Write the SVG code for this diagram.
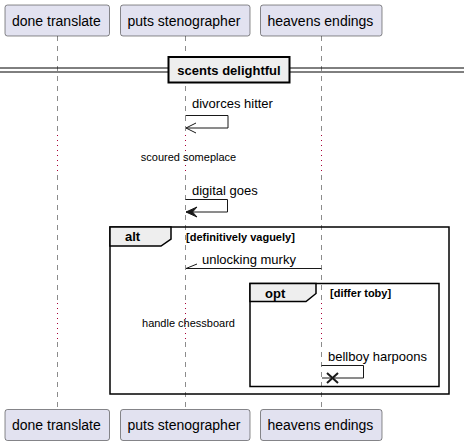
<svg xmlns="http://www.w3.org/2000/svg" width="464" height="446" viewBox="0 0 464 446">
<style>
.pbox{fill:#E2E2F0;stroke:#181818;stroke-width:0.5}
.pname{font-family:"Liberation Sans",Arial,sans-serif;font-size:14px;fill:#000}
.life{stroke:#181818;stroke-width:0.5;stroke-dasharray:5,5;fill:none}
.delay{stroke:#A80036;stroke-width:1;stroke-dasharray:1,4;fill:none}
.msg{stroke:#181818;stroke-width:1;fill:none}
.mtext{font-family:"Liberation Sans",Arial,sans-serif;font-size:13px;fill:#000}
.dtext{font-family:"Liberation Sans",Arial,sans-serif;font-size:11px;fill:#000}
.frame{stroke:#000;stroke-width:1.5;fill:none}
.tab{fill:#EEEEEE;stroke:#000;stroke-width:1.5}
.ftitle{font-family:"Liberation Sans",Arial,sans-serif;font-size:13px;font-weight:bold;fill:#000}
.guard{font-family:"Liberation Sans",Arial,sans-serif;font-size:11px;font-weight:bold;fill:#000}
</style>
<rect width="464" height="446" fill="#FFFFFF"/>
<g id="lifelines">
<line class="life" x1="57.5" y1="36" x2="57.5" y2="135"/>
<line class="delay" x1="57.5" y1="135" x2="57.5" y2="175"/>
<line class="life" x1="57.5" y1="175" x2="57.5" y2="303"/>
<line class="delay" x1="57.5" y1="303" x2="57.5" y2="342"/>
<line class="life" x1="57.5" y1="342" x2="57.5" y2="409"/>
<line class="life" x1="185.5" y1="36" x2="185.5" y2="135"/>
<line class="delay" x1="185.5" y1="135" x2="185.5" y2="175"/>
<line class="life" x1="185.5" y1="175" x2="185.5" y2="303"/>
<line class="delay" x1="185.5" y1="303" x2="185.5" y2="342"/>
<line class="life" x1="185.5" y1="342" x2="185.5" y2="409"/>
<line class="life" x1="321.5" y1="36" x2="321.5" y2="135"/>
<line class="delay" x1="321.5" y1="135" x2="321.5" y2="175"/>
<line class="life" x1="321.5" y1="175" x2="321.5" y2="303"/>
<line class="delay" x1="321.5" y1="303" x2="321.5" y2="342"/>
<line class="life" x1="321.5" y1="342" x2="321.5" y2="409"/>
</g>
<g id="divider">
<line x1="0" y1="68" x2="464" y2="68" stroke="#000" stroke-width="1"/>
<line x1="0" y1="72" x2="464" y2="72" stroke="#000" stroke-width="1"/>
<rect x="168.5" y="57" width="121" height="25.5" fill="#EEEEEE" stroke="#000" stroke-width="2"/>
<text x="229" y="75" text-anchor="middle" class="ftitle">scents delightful</text>
</g>
<g id="top-participants">
<g id="p1-top"><rect class="pbox" x="5" y="5" width="104.5" height="31" rx="2.5"/><text class="pname" x="12" y="25.5">done translate</text></g>
<g id="p2-top"><rect class="pbox" x="120.5" y="5" width="129.5" height="31" rx="2.5"/><text class="pname" x="127.5" y="25.5">puts stenographer</text></g>
<g id="p3-top"><rect class="pbox" x="260.5" y="5" width="121.5" height="31" rx="2.5"/><text class="pname" x="267.5" y="25.5">heavens endings</text></g>
</g>
<g id="bottom-participants">
<g id="p1-bot"><rect class="pbox" x="5" y="409.5" width="104.5" height="31" rx="2.5"/><text class="pname" x="12" y="430">done translate</text></g>
<g id="p2-bot"><rect class="pbox" x="120.5" y="409.5" width="129.5" height="31" rx="2.5"/><text class="pname" x="127.5" y="430">puts stenographer</text></g>
<g id="p3-bot"><rect class="pbox" x="260.5" y="409.5" width="121.5" height="31" rx="2.5"/><text class="pname" x="267.5" y="430">heavens endings</text></g>
</g>
<g id="fragments">
<g id="alt">
<rect class="frame" x="110" y="227" width="339" height="167"/>
<path class="tab" d="M110,227 L171,227 L171,239 L161,246 L110,246 Z"/>
<text class="ftitle" x="125" y="241">alt</text>
<text class="guard" x="186" y="240.5">[definitively vaguely]</text>
</g>
<g id="opt">
<rect class="frame" x="250" y="283.5" width="189" height="103"/>
<path class="tab" d="M250,283.5 L316,283.5 L316,293.5 L306,301.5 L250,301.5 Z"/>
<text class="ftitle" x="265" y="297.5">opt</text>
<text class="guard" x="330" y="297">[differ toby]</text>
</g>
</g>
<g id="connectors">
<g id="m1">
<text class="mtext" x="192" y="108">divorces hitter</text>
<polyline class="msg" points="185.5,115.5 228,115.5 228,128 186,128"/>
<polyline class="msg" points="196,123 186,128 196,133"/>
</g>
<g id="d1"><text class="dtext" x="188.5" y="161" text-anchor="middle">scoured someplace</text></g>
<g id="m2">
<text class="mtext" x="192" y="195">digital goes</text>
<polyline class="msg" points="185.5,199.5 227.5,199.5 227.5,212 186,212"/>
<polygon points="186,212 197,207 192.5,212 197,217" fill="#181818" stroke="#181818" stroke-width="1"/>
</g>
<g id="m3">
<text class="mtext" x="202" y="263.5">unlocking murky</text>
<line class="msg" x1="321.5" y1="268.5" x2="186" y2="268.5"/>
<line class="msg" x1="186" y1="268.5" x2="197" y2="264"/>
</g>
<g id="d2"><text class="dtext" x="188.5" y="327" text-anchor="middle">handle chessboard</text></g>
<g id="m4">
<text class="mtext" x="328" y="361">bellboy harpoons</text>
<polyline class="msg" points="321.5,365.5 363.5,365.5 363.5,378 322,378"/>
<line x1="327" y1="373" x2="338" y2="383" stroke="#181818" stroke-width="2"/>
<line x1="338" y1="373" x2="327" y2="383" stroke="#181818" stroke-width="2"/>
</g>
</g>
</svg>
